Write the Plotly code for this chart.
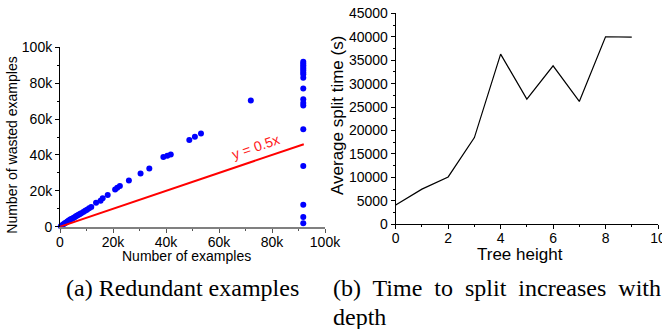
import plotly.graph_objects as go

W, H = 662, 329

# ---- Data: (a) redundant examples (thousands -> absolute) ----
ex_x_k = [0.3, 0.8, 1.3, 1.8, 2.3, 2.8, 3.2, 3.6, 4.0, 4.5, 5.0, 5.5, 6.0, 6.5, 7.0,
          7.5, 8.0, 8.8, 9.5, 10.2, 11.0, 11.8, 13.6, 15.3, 16.1, 18.0, 20.8, 21.6,
          22.6, 26.0, 30.4, 33.7, 39.0, 40.5, 41.8, 48.8, 50.9, 53.2, 72.0]
ex_y_k = [0.3, 0.8, 1.3, 1.9, 2.3, 2.9, 3.3, 3.7, 4.1, 4.4, 4.9, 5.3, 5.8, 6.2, 6.6,
          7.1, 7.5, 8.2, 8.9, 9.5, 10.3, 11.0, 13.4, 14.5, 15.8, 17.7, 20.8, 21.7,
          22.7, 25.7, 29.7, 32.5, 38.8, 39.6, 40.3, 48.3, 50.2, 52.0, 70.3]
col_x_k = [91.8] * 18
col_y_k = [92.0, 91.0, 90.0, 89.0, 88.0, 87.0, 86.0, 85.0, 83.0, 77.0, 71.0, 69.0,
           67.5, 54.3, 33.8, 12.3, 5.4, 1.9]
line_x = [0, 92000]
line_y = [0, 46000]

a_xticks = [0, 20000, 40000, 60000, 80000, 100000]
a_xticktext = ["0", "20k", "40k", "60k", "80k", "100k"]
a_yticks = [0, 20000, 40000, 60000, 80000, 100000]
a_yticktext = ["0", "20k", "40k", "60k", "80k", "100k"]

# ---- Data: (b) split time vs tree height ----
tree_height = [0, 1, 2, 3, 4, 5, 6, 7, 8, 9]
split_time = [4100, 7500, 10100, 18500, 36300, 26700, 33800, 26200, 40000, 39900]
b_xticks = [0, 2, 4, 6, 8, 10]
b_yticks = [0, 5000, 10000, 15000, 20000, 25000, 30000, 35000, 40000, 45000]
b_yticktext = [str(v) for v in b_yticks]

SANS = "Liberation Sans, Arial, sans-serif"
SERIF = "Liberation Serif, Times New Roman, serif"

def px(x):
    return x / W

def py(y):
    return 1 - y / H

fig = go.Figure()

fig.add_trace(go.Scatter(
    x=[v * 1000 for v in ex_x_k], y=[v * 1000 for v in ex_y_k], mode="markers",
    marker=dict(color="#0000ff", size=6, line=dict(width=0)),
    cliponaxis=False, xaxis="x", yaxis="y", showlegend=False))
fig.add_trace(go.Scatter(
    x=[v * 1000 for v in col_x_k], y=[v * 1000 for v in col_y_k], mode="markers",
    marker=dict(color="#0000ff", size=6, line=dict(width=0)),
    cliponaxis=False, xaxis="x", yaxis="y", showlegend=False))
fig.add_trace(go.Scatter(
    x=line_x, y=line_y, mode="lines", line=dict(color="#ff0000", width=2),
    xaxis="x", yaxis="y", showlegend=False))

fig.add_trace(go.Scatter(
    x=tree_height, y=split_time, mode="lines", line=dict(color="black", width=1.2),
    xaxis="x2", yaxis="y2", showlegend=False))

tickfont = dict(family=SANS, size=14, color="black")

fig.update_layout(
    width=W, height=H,
    margin=dict(l=0, r=0, t=0, b=0, autoexpand=False),
    paper_bgcolor="white", plot_bgcolor="white",
    xaxis=dict(domain=[px(60), px(325)], range=[0, 100000], automargin=False,
               tickmode="array", tickvals=a_xticks, ticktext=a_xticktext,
               ticks="outside", ticklen=4, tickwidth=1, tickcolor="#555",
               ticklabelstandoff=-3, ticklabeloverflow="allow",
               minor=dict(dtick=10000, tick0=0, ticks="outside", ticklen=2, tickcolor="#555"),
               showline=True, linecolor="#808080", linewidth=2,
               showgrid=False, zeroline=False, tickfont=tickfont, anchor="y"),
    yaxis=dict(domain=[py(226.7), py(47.3)], range=[0, 100000], automargin=False,
               tickmode="array", tickvals=a_yticks, ticktext=a_yticktext,
               ticks="outside", ticklen=4, tickwidth=1, tickcolor="black",
               ticklabeloverflow="allow",
               minor=dict(dtick=10000, tick0=0, ticks="outside", ticklen=2, tickcolor="black"),
               showline=True, linecolor="black", linewidth=1,
               showgrid=False, zeroline=False, tickfont=tickfont, anchor="x"),
    xaxis2=dict(domain=[px(395.7), px(658)], range=[0, 10], automargin=False,
                tickmode="array", tickvals=b_xticks,
                ticks="outside", ticklen=4, tickwidth=1, tickcolor="black",
                ticklabelstandoff=-3, ticklabeloverflow="allow",
                minor=dict(dtick=1, tick0=0, ticks="outside", ticklen=2, tickcolor="black"),
                showline=True, linecolor="black", linewidth=1,
                showgrid=False, zeroline=False, tickfont=tickfont, anchor="y2"),
    yaxis2=dict(domain=[py(224.3), py(13.3)], range=[0, 45000], automargin=False,
                tickmode="array", tickvals=b_yticks, ticktext=b_yticktext,
                ticks="outside", ticklen=4, tickwidth=1, tickcolor="black",
                ticklabeloverflow="allow",
                minor=dict(dtick=2500, tick0=0, ticks="outside", ticklen=2, tickcolor="black"),
                showline=True, linecolor="black", linewidth=1,
                showgrid=False, zeroline=False, tickfont=tickfont, anchor="x2"),
)

ann = []
ann.append(dict(text="y = 0.5x", x=73600, y=44400, xref="x", yref="y",
                showarrow=False, textangle=-19,
                font=dict(family=SANS, size=14, color="#ff2020")))
ann.append(dict(text="Number of wasted examples", x=px(11.7), y=py(145), xref="paper", yref="paper",
                showarrow=False, textangle=-90, xanchor="center", yanchor="middle",
                font=dict(family=SANS, size=14, color="black")))
ann.append(dict(text="Number of examples", x=px(186), y=py(256), xref="paper", yref="paper",
                showarrow=False, xanchor="center", yanchor="middle",
                font=dict(family=SANS, size=14, color="black")))
ann.append(dict(text="Average split time (s)", x=px(338), y=py(116), xref="paper", yref="paper",
                showarrow=False, textangle=-90, xanchor="center", yanchor="middle",
                font=dict(family=SANS, size=17, color="black")))
ann.append(dict(text="Tree height", x=px(520), y=py(254), xref="paper", yref="paper",
                showarrow=False, xanchor="center", yanchor="middle",
                font=dict(family=SANS, size=17, color="black")))
ann.append(dict(text="(a) Redundant examples", x=px(182), y=py(288), xref="paper", yref="paper",
                showarrow=False, xanchor="center", yanchor="middle",
                font=dict(family=SERIF, size=24, color="black")))
ann.append(dict(text="(b)  Time  to  split  increases  with", x=px(331), y=py(288), xref="paper", yref="paper",
                showarrow=False, xanchor="left", yanchor="middle",
                font=dict(family=SERIF, size=24, color="black")))
ann.append(dict(text="depth", x=px(331), y=py(317), xref="paper", yref="paper",
                showarrow=False, xanchor="left", yanchor="middle",
                font=dict(family=SERIF, size=24, color="black")))
fig.update_layout(annotations=ann)

fig.write_html("out.html",
               config={"displayModeBar": False},
               post_script="document.body.style.margin='0';document.body.style.padding='0';")
